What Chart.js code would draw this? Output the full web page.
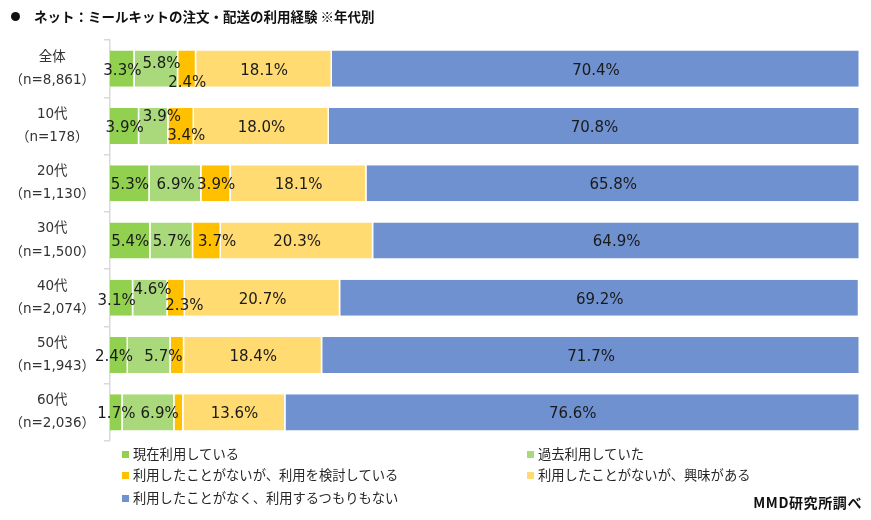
<!DOCTYPE html>
<html lang="ja">
<head>
<meta charset="utf-8">
<script src="https://cdn.jsdelivr.net/npm/chart.js@4/dist/chart.umd.min.js"></script>
<style>
  html, body { margin: 0; padding: 0; background: #fff; }
  body { width: 871px; height: 520px; position: relative; overflow: hidden;
         font-family: "Noto Sans CJK JP", "Noto Sans", sans-serif; color: #333; }
  #wrap { position: absolute; left: 0; top: 0; width: 871px; height: 520px; }
  #title { position: absolute; left: 11px; top: 6px; font-size: 13.5px; font-weight: bold; color: #111; white-space: nowrap; }
  #title .dot { display: inline-block; width: 9px; height: 9px; border-radius: 50%; background: #111; margin-right: 14px; vertical-align: 1px; }
  .lg { position: absolute; font-size: 13.3px; color: #262626; white-space: nowrap; line-height: 20px; }
  .lg i { position: absolute; top: 7px; width: 7px; height: 7px; }
  .lg span { position: absolute; top: 0; }
  #src { position: absolute; right: 9px; top: 491px; font-size: 14px; font-weight: bold; color: #111; letter-spacing: 0.6px; line-height: 22px; }
</style>
</head>
<body>
<div id="wrap"><canvas id="c" width="871" height="520"></canvas></div>
<div id="title"><span class="dot"></span>ネット：ミールキットの注文・配送の利用経験 ※年代別</div>
<div id="legend"></div>
<div id="src">MMD研究所調べ</div>
<script>
// ---- data ----
const groupNames = ['全体', '10代', '20代', '30代', '40代', '50代', '60代'];
const sampleSizes = ['（n=8,861）', '（n=178）', '（n=1,130）', '（n=1,500）', '（n=2,074）', '（n=1,943）', '（n=2,036）'];
const seriesNames = [
  '現在利用している',
  '過去利用していた',
  '利用したことがないが、利用を検討している',
  '利用したことがないが、興味がある',
  '利用したことがなく、利用するつもりもない'
];
const usingNow      = [3.3, 3.9, 5.3, 5.4, 3.1, 2.4, 1.7];
const usedBefore    = [5.8, 3.9, 6.9, 5.7, 4.6, 5.7, 6.9];
const considering   = [2.4, 3.4, 3.9, 3.7, 2.3, 1.8, 1.2];
const interested    = [18.1, 18.0, 18.1, 20.3, 20.7, 18.4, 13.6];
const notInterested = [70.4, 70.8, 65.8, 64.9, 69.2, 71.7, 76.6];

// ---- styles ----
const colors = ['#92D050', '#A9D97A', '#FFC000', '#FFDB72', '#7091D0'];
// label nudges [dx, dy] keyed "dataset-index"; hidden labels listed separately
const labelNudges = {
  '1-0': [5, -7], '2-0': [0, 12],
  '1-1': [8, -11], '2-1': [5, 8],
  '2-3': [10, 0],
  '0-4': [-5, 1], '1-4': [2, -10], '2-4': [8, 6],
  '0-5': [-5, 0], '1-5': [14, 0],
  '1-6': [11, 0]
};
const hiddenLabels = ['2-5', '2-6'];

const values = [usingNow, usedBefore, considering, interested, notInterested];
const labels = groupNames.map((g, i) => [g, sampleSizes[i]]);

const segLabels = {
  id: 'segLabels',
  afterDatasetsDraw(chart) {
    const ctx = chart.ctx;
    ctx.save();
    ctx.font = '15px "DejaVu Sans", "Noto Sans CJK JP", sans-serif';
    ctx.fillStyle = '#1a1a1a';
    ctx.textAlign = 'center';
    ctx.textBaseline = 'middle';
    chart.data.datasets.forEach((ds, di) => {
      const meta = chart.getDatasetMeta(di);
      meta.data.forEach((bar, i) => {
        const key = di + '-' + i;
        if (hiddenLabels.includes(key)) return;
        const n = labelNudges[key] || [0, 0];
        const cx = (bar.x + bar.base) / 2 + n[0];
        const cy = bar.y + 2 + n[1];
        ctx.fillText(ds.data[i].toFixed(1) + '%', cx, cy);
      });
    });
    ctx.restore();
  }
};

new Chart(document.getElementById('c'), {
  type: 'bar',
  data: {
    labels: labels,
    datasets: values.map((v, k) => ({
      label: seriesNames[k],
      data: v,
      backgroundColor: colors[k],
      borderColor: '#ffffff',
      borderWidth: { right: 1.5, left: 0, top: 0, bottom: 0 },
      borderSkipped: false,
      barPercentage: 0.63,
      categoryPercentage: 1.0
    }))
  },
  options: {
    indexAxis: 'y',
    responsive: false,
    animation: false,
    layout: { padding: { left: 0, right: 11, top: 40, bottom: 79 } },
    plugins: { legend: { display: false }, tooltip: { enabled: false } },
    scales: {
      x: { stacked: true, min: 0, max: 100, display: false },
      y: {
        stacked: true,
        afterFit(scale) { scale.width = 110; scale.paddingTop = 0; scale.paddingBottom = 0; },
        border: { display: true, color: '#d9d9d9', width: 1.5 },
        grid: { display: true, drawOnChartArea: false, offset: true, tickLength: 6, color: '#d9d9d9', lineWidth: 1.5 },
        ticks: {
          crossAlign: 'center',
          padding: 9,
          color: '#333',
          font: { family: '"DejaVu Sans", "Noto Sans CJK JP", sans-serif', size: 13.5, lineHeight: 1.72 }
        }
      }
    }
  },
  plugins: [segLabels]
});

// legend (HTML)
const legendPos = [[122, 444], [527, 444], [122, 465], [527, 465], [122, 488]];
const lg = document.getElementById('legend');
seriesNames.forEach((name, k) => {
  const d = document.createElement('div');
  d.className = 'lg';
  d.style.left = legendPos[k][0] + 'px';
  d.style.top = legendPos[k][1] + 'px';
  d.innerHTML = '<i style="left:0;background:' + colors[k] + '"></i><span style="left:11px">' + name + '</span>';
  lg.appendChild(d);
});
</script>
</body>
</html>
